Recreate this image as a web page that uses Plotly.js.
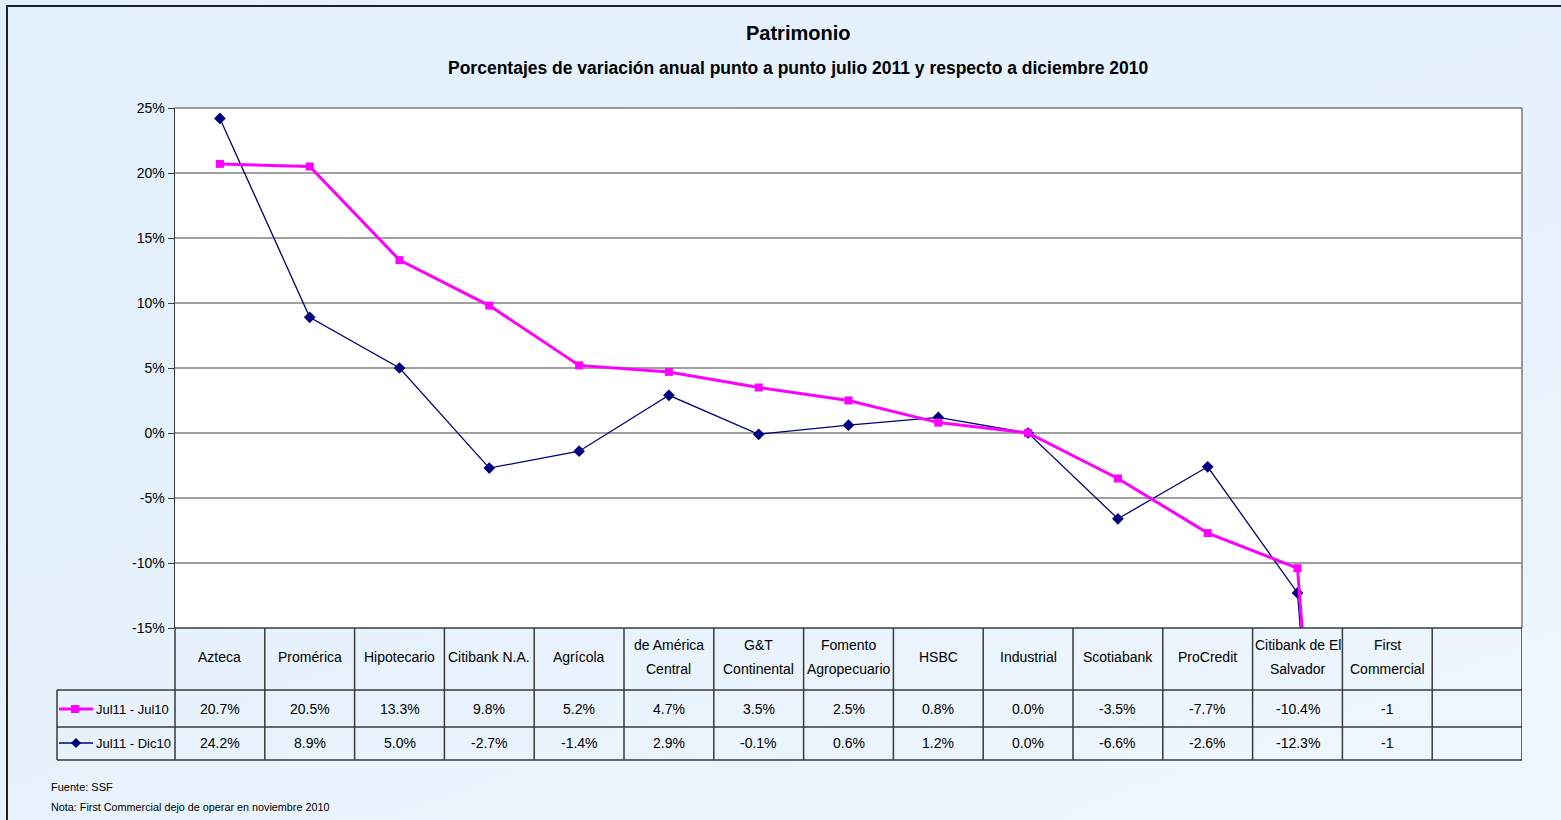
<!DOCTYPE html>
<html>
<head>
<meta charset="utf-8">
<script src="https://cdn.plot.ly/plotly-3.0.1.min.js"></script>
<style>
  html, body { margin: 0; padding: 0; width: 1561px; height: 820px; overflow: hidden; }
  body { background: linear-gradient(160deg, #E2F0FC 0%, #E7F2FD 55%, #F0F7FE 100%); }
  #frame { position: absolute; left: 6px; top: 5px; width: 1600px; height: 900px; border: 2px solid #222; box-sizing: border-box; pointer-events: none; z-index: 5; }
  #chart { position: absolute; left: 0; top: 0; width: 1561px; height: 820px; }
</style>
</head>
<body>
<div id="chart"></div>
<div id="frame"></div>
<script>
// ---- data ----
const categories = ["Azteca", "Promérica", "Hipotecario", "Citibank N.A.", "Agrícola",
  "de América<br>Central", "G&T<br>Continental", "Fomento<br>Agropecuario", "HSBC", "Industrial",
  "Scotiabank", "ProCredit", "Citibank de El<br>Salvador", "First<br>Commercial", ""];
const seriesNames = ["Jul11 - Jul10", "Jul11 - Dic10"];
const julJul = [0.207, 0.205, 0.133, 0.098, 0.052, 0.047, 0.035, 0.025, 0.008, 0.000, -0.035, -0.077, -0.104, -1];
const julDic = [0.242, 0.089, 0.050, -0.027, -0.014, 0.029, -0.001, 0.006, 0.012, 0.000, -0.066, -0.026, -0.123, -1];
const yTicks = [0.25, 0.20, 0.15, 0.10, 0.05, 0, -0.05, -0.10, -0.15];
const titleText = "Patrimonio";
const subtitleText = "Porcentajes de variación anual punto a punto julio 2011 y respecto a diciembre 2010";
const sourceText = "Fuente: SSF";
const noteText = "Nota: First Commercial dejo de operar en noviembre 2010";

// ---- layout helpers ----
const W = 1561, H = 820;
const L = 175, R = 1522, T = 108, B = 628;
const px = p => (p - L) / (R - L);
const py = p => (B - p) / (B - T);
const FONT = "Liberation Sans, Arial, sans-serif";
const MAG = "#FF00FF", NAVY = "#000080", LINE = "#3a3a3a";

const idx = categories.map((c, i) => i);
const fmt = v => v === -1 ? "-1" : (v * 100).toFixed(1) + "%";
const tickText = yTicks.map(v => Math.round(v * 100) + "%");

const traces = [
  { x: idx.slice(0, julDic.length), y: julDic, type: "scatter", mode: "lines+markers", name: seriesNames[1],
    line: { color: NAVY, width: 1.3 }, marker: { symbol: "diamond", size: 9, color: NAVY } },
  { x: idx.slice(0, julJul.length), y: julJul, type: "scatter", mode: "lines+markers", name: seriesNames[0],
    line: { color: MAG, width: 3 }, marker: { symbol: "square", size: 8, color: MAG } }
];

const shapes = [];
const annotations = [];

// plot area border (top/right gray)
shapes.push({ type: "line", xref: "paper", yref: "paper", x0: 0, x1: 1, y0: 1, y1: 1, line: { color: "#999", width: 2 } });
shapes.push({ type: "line", xref: "paper", yref: "paper", x0: 1, x1: 1, y0: 0, y1: 1, line: { color: "#999", width: 2 } });

// table lines
shapes.push({ type: "line", xref: "paper", yref: "paper", x0: 0, x1: 1, y0: py(628), y1: py(628), line: { color: LINE, width: 1.5 } });
[690, 727, 760].forEach(r => {
  shapes.push({ type: "line", xref: "paper", yref: "paper", x0: px(57), x1: 1, y0: py(r), y1: py(r), line: { color: LINE, width: 1.5 } });
});
shapes.push({ type: "line", xref: "paper", yref: "paper", x0: px(57), x1: px(57), y0: py(690), y1: py(760), line: { color: LINE, width: 1.5 } });
shapes.push({ type: "line", xref: "paper", yref: "paper", x0: 0, x1: 0, y0: py(628), y1: py(760), line: { color: LINE, width: 1.5 } });
for (let i = 0; i < categories.length; i++) {
  shapes.push({ type: "line", xref: "x", yref: "paper", x0: i + 0.5, x1: i + 0.5, y0: py(628), y1: py(760), line: { color: LINE, width: 1.5 } });
}

// header and values
const CELL = { family: FONT, size: 14, color: "#000" };
categories.forEach((c, i) => {
  if (!c) return;
  const parts = c.split("<br>");
  if (parts.length === 1) {
    annotations.push({ x: i, y: py(657), xref: "x", yref: "paper", text: c, showarrow: false, font: CELL, yanchor: "middle" });
  } else {
    annotations.push({ x: i, y: py(645), xref: "x", yref: "paper", text: parts[0], showarrow: false, font: CELL, yanchor: "middle" });
    annotations.push({ x: i, y: py(669), xref: "x", yref: "paper", text: parts[1], showarrow: false, font: CELL, yanchor: "middle" });
  }
});
julJul.forEach((v, i) => annotations.push({ x: i, y: py(709), xref: "x", yref: "paper", text: fmt(v), showarrow: false,
  font: CELL, yanchor: "middle" }));
julDic.forEach((v, i) => annotations.push({ x: i, y: py(743), xref: "x", yref: "paper", text: fmt(v), showarrow: false,
  font: CELL, yanchor: "middle" }));

// legend keys in table
shapes.push({ type: "line", xref: "paper", yref: "paper", x0: px(59), x1: px(93), y0: py(709), y1: py(709), line: { color: MAG, width: 3 } });
shapes.push({ type: "rect", xref: "paper", yref: "paper", x0: px(71), x1: px(79), y0: py(705), y1: py(713), fillcolor: MAG, line: { width: 0 } });
shapes.push({ type: "line", xref: "paper", yref: "paper", x0: px(59), x1: px(93), y0: py(743), y1: py(743), line: { color: NAVY, width: 1.3 } });
shapes.push({ type: "path", xref: "paper", yref: "paper",
  path: `M ${px(76)} ${py(738)} L ${px(81)} ${py(743)} L ${px(76)} ${py(748)} L ${px(71)} ${py(743)} Z`,
  fillcolor: NAVY, line: { width: 0 } });
annotations.push({ x: px(94), y: py(709), xref: "paper", yref: "paper", text: seriesNames[0], showarrow: false,
  xanchor: "left", yanchor: "middle", font: { family: FONT, size: 13, color: "#000" } });
annotations.push({ x: px(94), y: py(743), xref: "paper", yref: "paper", text: seriesNames[1], showarrow: false,
  xanchor: "left", yanchor: "middle", font: { family: FONT, size: 13, color: "#000" } });

// titles
annotations.push({ x: px(798), y: py(33), xref: "paper", yref: "paper", text: "<b>" + titleText + "</b>", showarrow: false,
  xanchor: "center", yanchor: "middle", font: { family: FONT, size: 20, color: "#000" } });
annotations.push({ x: px(798), y: py(68), xref: "paper", yref: "paper", text: "<b>" + subtitleText + "</b>", showarrow: false,
  xanchor: "center", yanchor: "middle", font: { family: FONT, size: 17.5, color: "#000" } });

// footnotes
annotations.push({ x: px(49), y: py(787), xref: "paper", yref: "paper", text: sourceText, showarrow: false,
  xanchor: "left", yanchor: "middle", font: { family: FONT, size: 11, color: "#000" } });
annotations.push({ x: px(49), y: py(807), xref: "paper", yref: "paper", text: noteText, showarrow: false,
  xanchor: "left", yanchor: "middle", font: { family: FONT, size: 10.8, color: "#000" } });

const layout = {
  width: W, height: H,
  margin: { l: L, r: W - R, t: T, b: H - B, pad: 0 },
  paper_bgcolor: "rgba(0,0,0,0)",
  plot_bgcolor: "#FFFFFF",
  showlegend: false,
  xaxis: { type: "linear", range: [-0.5, categories.length - 0.5], showgrid: false, zeroline: false,
    showticklabels: false, ticks: "", showline: false, fixedrange: true },
  yaxis: { range: [-0.15, 0.25], tickvals: yTicks, ticktext: tickText, showgrid: true, gridcolor: "#A0A0A0", gridwidth: 1.5,
    zeroline: false, showline: true, linecolor: LINE, linewidth: 1.5, ticks: "outside", ticklen: 6, tickcolor: LINE,
    tickfont: { family: FONT, size: 14, color: "#000" }, fixedrange: true },
  shapes: shapes,
  annotations: annotations
};

Plotly.newPlot("chart", traces, layout, { displayModeBar: false, staticPlot: true });
</script>
</body>
</html>
